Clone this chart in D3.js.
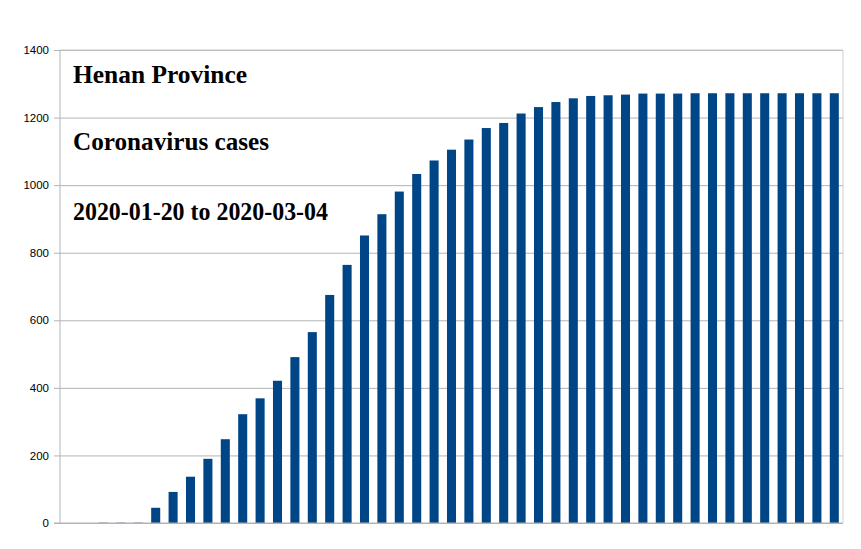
<!DOCTYPE html>
<html>
<head>
<meta charset="utf-8">
<script src="https://cdn.jsdelivr.net/npm/d3@7"></script>
<style>
  html, body { margin: 0; padding: 0; background: #ffffff; }
  svg { display: block; }
</style>
</head>
<body>
<svg id="chart" width="861" height="549"></svg>
<script>
// Days 2020-01-20 .. 2020-03-04 (45 days)
const startDate = "2020-01-20";
const endDate = "2020-03-04";
const cases = [
  0, 0, 1, 1, 1, 45, 92, 137, 190, 248,
  322, 369, 421, 491, 565, 675, 764, 851, 914, 981,
  1033, 1073, 1105, 1135, 1169, 1184, 1212, 1231, 1246, 1257,
  1264, 1266, 1268, 1271, 1271, 1271, 1272, 1272, 1272, 1272,
  1272, 1272, 1272, 1272, 1272
];
const yTicks = [0, 200, 400, 600, 800, 1000, 1200, 1400];
const titleLines = ["Henan Province", "Coronavirus cases", "2020-01-20 to 2020-03-04"];

const parse = d3.timeParse("%Y-%m-%d");
const fmt = d3.timeFormat("%Y-%m-%d");
const days = d3.timeDay.range(parse(startDate), d3.timeDay.offset(parse(endDate), 1)).map(fmt);

const svg = d3.select("#chart");
const m = { left: 60, right: 18, top: 50, bottom: 26 };
const W = 861, H = 549;

const x = d3.scaleBand().domain(days).range([m.left, W - m.right]).paddingInner(0.48).paddingOuter(0.24);
const y = d3.scaleLinear().domain([0, 1400]).range([H - m.bottom, m.top]);

// gridlines + ticks
const yAxis = d3.axisLeft(y).tickValues(yTicks).tickFormat(d3.format("d"))
  .tickSize(-(W - m.right - m.left)).tickSizeOuter(0).tickPadding(11);
const gy = svg.append("g").attr("transform", `translate(${m.left},0)`).call(yAxis);
gy.select(".domain").remove();
gy.selectAll(".tick line").attr("stroke", "#b3b3b3").attr("stroke-width", 1).attr("x1", -6);
gy.selectAll(".tick text").attr("font-family", "'Liberation Sans', Arial, sans-serif").attr("font-size", 11.5).attr("fill", "#000");

// frame top & right
svg.append("line").attr("x1", m.left).attr("x2", W - m.right).attr("y1", y(1400)).attr("y2", y(1400)).attr("stroke", "#c8c8c8");
svg.append("line").attr("x1", W - m.right).attr("x2", W - m.right).attr("y1", y(1400)).attr("y2", y(0)).attr("stroke", "#d0d0d0");

// bars
svg.append("g").selectAll("rect").data(days).join("rect")
  .attr("x", (d) => x(d))
  .attr("width", x.bandwidth())
  .attr("y", (d, i) => y(cases[i]))
  .attr("height", (d, i) => y(0) - y(cases[i]))
  .attr("fill", "#004586");

// axes lines
svg.append("line").attr("x1", m.left).attr("x2", m.left).attr("y1", y(1400)).attr("y2", y(0)).attr("stroke", "#b3b3b3");
svg.append("line").attr("x1", m.left - 6).attr("x2", W - m.right).attr("y1", y(0)).attr("y2", y(0)).attr("stroke", "#b3b3b3");

// title text
const tY = [83, 150, 220];
const tW = [174, 196, 255];
svg.append("g").selectAll("text").data(titleLines).join("text")
  .attr("x", 73)
  .attr("y", (d, i) => tY[i])
  .attr("textLength", (d, i) => tW[i])
  .attr("lengthAdjust", "spacingAndGlyphs")
  .attr("font-family", "'Liberation Serif', 'Times New Roman', serif")
  .attr("font-weight", "bold")
  .attr("font-size", 25)
  .attr("fill", "#000")
  .text((d) => d);
</script>
</body>
</html>
